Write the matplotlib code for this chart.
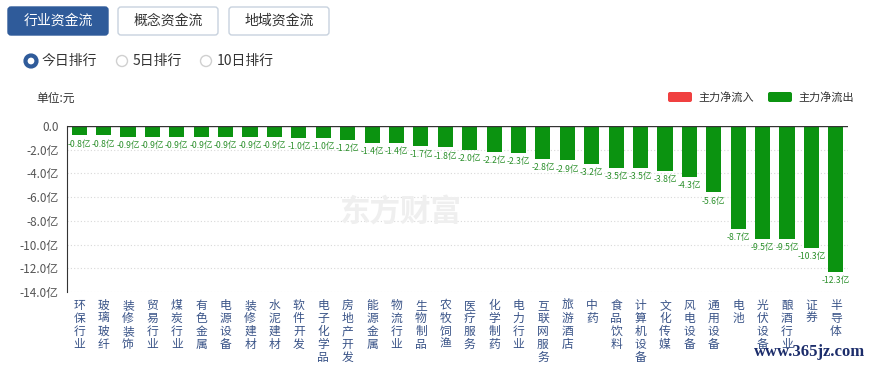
import matplotlib.pyplot as plt
import numpy as np
from matplotlib.patches import FancyBboxPatch, Circle

plt.rcParams['font.family'] = ['Noto Sans CJK SC', 'DejaVu Sans']

# 行业资金流 今日排行 (单位: 亿元)
categories = ["环保行业", "玻璃玻纤", "装修装饰", "贸易行业", "煤炭行业", "有色金属",
              "电源设备", "装修建材", "水泥建材", "软件开发", "电子化学品", "房地产开发",
              "能源金属", "物流行业", "生物制品", "农牧饲渔", "医疗服务", "化学制药",
              "电力行业", "互联网服务", "旅游酒店", "中药", "食品饮料", "计算机设备",
              "文化传媒", "风电设备", "通用设备", "电池", "光伏设备", "酿酒行业",
              "证券", "半导体"]
net_flow = [-0.8, -0.8, -0.9, -0.9, -0.9, -0.9, -0.9, -0.9, -0.9, -1.0, -1.0, -1.2,
            -1.4, -1.4, -1.7, -1.8, -2.0, -2.2, -2.3, -2.8, -2.9, -3.2, -3.5, -3.5,
            -3.8, -4.3, -5.6, -8.7, -9.5, -9.5, -10.3, -12.3]
yticks = [0, -2, -4, -6, -8, -10, -12, -14]

W, H = 875, 367
fig = plt.figure(figsize=(W / 100, H / 100), dpi=100)

# main chart
ax = fig.add_axes([67 / W, 1 - 292 / H, 781 / W, 166 / H])
ax.patch.set_alpha(0)
x = np.arange(len(categories))
colors = ["#f04040" if v > 0 else "#0b9310" for v in net_flow]
ax.bar(x, net_flow, width=0.62, color=colors, zorder=3)
for xi, v in zip(x, net_flow):
    ax.annotate(f"{v:.1f}亿", (xi, v), xytext=(0, -3), textcoords="offset points",
                ha="center", va="top", fontsize=6.2, color="#2a8f2a")

ax.set_xlim(-0.5, len(categories) - 0.5)
ax.set_ylim(-14, 0)
ax.set_yticks(yticks)
ax.set_yticklabels(["0.0"] + [f"{t:.1f}亿" for t in yticks[1:]], fontsize=8.5, color="#555")
ax.set_xticks(x)
ax.set_xticklabels(["\n".join(c) for c in categories], fontsize=8.5, color="#3a5488",
                   va="top", linespacing=1.0)
ax.tick_params(axis="both", length=0)
ax.tick_params(axis="y", pad=6)
ax.tick_params(axis="x", pad=5)
for t in yticks[1:]:
    ax.axhline(t, color="#d8d8d8", lw=0.8, ls=(0, (1, 2)), zorder=1)
ax.axhline(0, color="#333", lw=1.0, zorder=4)
for s in ["top", "right", "bottom"]:
    ax.spines[s].set_visible(False)
ax.spines["left"].set_color("#333")

# overlay for the page controls
ov = fig.add_axes([0, 0, 1, 1])
ov.set_xlim(0, W)
ov.set_ylim(H, 0)
ov.axis("off")
ov.patch.set_alpha(0)

buttons = ["行业资金流", "概念资金流", "地域资金流"]
for i, (b, x0) in enumerate(zip(buttons, [8, 118, 229])):
    active = i == 0
    ov.add_patch(FancyBboxPatch((x0, 7), 100, 28, boxstyle="round,pad=0,rounding_size=3",
                                fc="#2f5b9a" if active else "white",
                                ec="#2f5b9a" if active else "#c8d2de", lw=1))
    ov.text(x0 + 50, 21, b, ha="center", va="center", fontsize=10,
            color="white" if active else "#333")

radios = ["今日排行", "5日排行", "10日排行"]
for i, (r, cx) in enumerate(zip(radios, [31, 122, 206])):
    if i == 0:
        ov.add_patch(Circle((cx, 61), 5.5, fc="white", ec="#2f5b9a", lw=3))
    else:
        ov.add_patch(Circle((cx, 61), 5.5, fc="white", ec="#d0d0d0", lw=1))
    ov.text(cx + 11, 61, r, ha="left", va="center", fontsize=10, color="#333")

ov.text(36, 98, "单位:元", ha="left", va="center", fontsize=8.5, color="#333")

for (lx, col, lab) in [(668, "#f04040", "主力净流入"), (768, "#0b9310", "主力净流出")]:
    ov.add_patch(FancyBboxPatch((lx, 92), 24, 10, boxstyle="round,pad=0,rounding_size=2",
                                fc=col, ec="none"))
    ov.text(lx + 30, 97, lab, ha="left", va="center", fontsize=8, color="#333")

ov.text(400, 212, "东方财富", ha="center", va="center", fontsize=22, fontweight="bold",
        color="#efefef", zorder=0)
ov.text(810, 352, "www.365jz.com", ha="center", va="center", fontsize=12,
        fontweight="bold", family="Liberation Serif", color="#1c2d6b")

fig.savefig("out.png", dpi=100)
